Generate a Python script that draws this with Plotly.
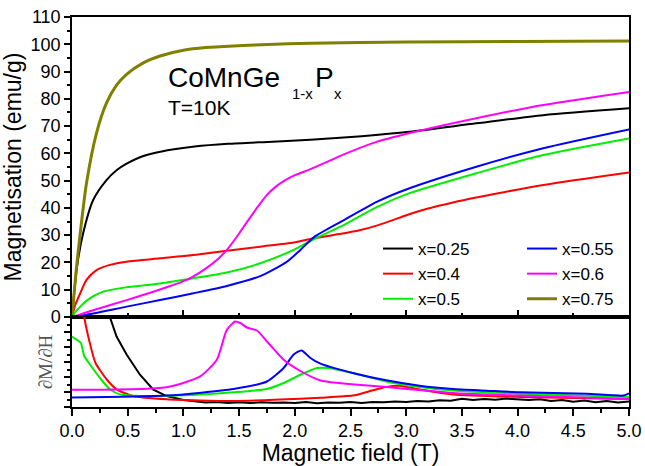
import plotly.graph_objects as go

# ---------------- data ----------------
labels = ["x=0.25", "x=0.4", "x=0.5", "x=0.55", "x=0.6", "x=0.75"]
colors = ["#000000", "#ff0000", "#00ee00", "#0000ff", "#ff00ff", "#808000"]

# Magnetisation M(H), emu/g
H_025 = [0, 0.045, 0.10, 0.19, 0.31, 0.40, 0.49, 0.60, 0.75, 0.90, 1.10, 1.40, 1.80, 2.14, 2.60, 3.03, 3.63, 4.23, 5.0]
M_025 = [0, 18.4, 30.7, 42.9, 50.2, 53.8, 56.2, 58.4, 60.2, 61.4, 62.5, 63.5, 64.3, 65.0, 66.3, 67.9, 71.0, 74.0, 76.5]

H_040 = [0, 0.03, 0.074, 0.13, 0.22, 0.34, 0.49, 0.79, 1.09, 1.39, 1.69, 1.99, 2.14, 2.4, 2.59, 2.75, 2.88, 3.0, 3.18, 3.42, 3.63, 4.23, 5.0]
M_040 = [0, 4.5, 8.7, 13.6, 17.2, 19.1, 20.3, 21.5, 22.7, 24.3, 25.8, 27.3, 28.6, 30.4, 31.9, 33.7, 35.5, 37.3, 39.6, 42.0, 43.8, 48.4, 53.0]

H_050 = [0, 0.03, 0.074, 0.16, 0.28, 0.49, 0.79, 1.09, 1.39, 1.69, 1.99, 2.17, 2.41, 2.74, 3.03, 3.63, 4.23, 5.0]
M_050 = [0, 1.8, 3.8, 6.8, 9.3, 10.9, 12.3, 14.2, 16.3, 19.7, 24.6, 28.5, 33.1, 40.4, 45.4, 52.7, 59.4, 65.5]

H_055 = [0, 0.19, 0.49, 0.79, 1.09, 1.39, 1.69, 1.93, 2.05, 2.17, 2.44, 2.74, 3.03, 3.63, 4.23, 5.0]
M_055 = [0, 1.3, 3.8, 6.2, 8.7, 11.4, 15.0, 20.3, 24.6, 29.2, 35.5, 42.3, 47.2, 55.1, 61.9, 68.8]

H_060 = [0, 0.19, 0.49, 0.79, 1.03, 1.18, 1.30, 1.39, 1.465, 1.51, 1.57, 1.66, 1.75, 1.83, 1.90, 2.0, 2.14, 2.32, 2.44, 2.74, 3.12, 3.63, 4.23, 5.0]
M_060 = [0, 2.5, 6.2, 10.1, 13.6, 17.2, 20.9, 24.6, 28.6, 31.2, 34.8, 40.0, 44.8, 47.8, 49.8, 52.0, 54.2, 57.4, 59.6, 64.3, 68.3, 72.9, 77.7, 82.5]

H_075 = [0, 0.035, 0.074, 0.13, 0.22, 0.31, 0.40, 0.49, 0.64, 0.79, 1.0, 1.2, 1.45, 1.7, 2.14, 3.0, 4.0, 5.0]
M_075 = [0, 16, 30.7, 49, 67.4, 78.5, 85, 89, 93.2, 95.7, 97.8, 98.8, 99.4, 99.8, 100.4, 100.8, 101.0, 101.2]

# Derivative dM/dH (arbitrary units)
dH_025 = [0, 0.2, 0.34, 0.40, 0.49, 0.61, 0.73, 0.85, 1.0, 1.1, 1.2, 1.3, 1.4, 1.5, 1.6, 1.7, 1.8, 1.9, 2.0,
          2.1, 2.2, 2.3, 2.4, 2.5, 2.6, 2.7, 2.8, 2.9, 3.0, 3.1, 3.2, 3.3, 3.4, 3.5, 3.6, 3.7, 3.8, 3.9, 4.0,
          4.1, 4.2, 4.3, 4.4, 4.5, 4.6, 4.7, 4.8, 4.9, 5.0]
dM_025 = [14, 9, 6.0, 4.7, 3.5, 2.15, 1.16, 0.73, 0.47, 0.36, 0.30, 0.33, 0.27, 0.31, 0.26, 0.32, 0.28, 0.30,
          0.27, 0.33, 0.25, 0.30, 0.28, 0.34, 0.27, 0.33, 0.31, 0.36, 0.33, 0.40, 0.36, 0.45, 0.41, 0.55,
          0.46, 0.53, 0.48, 0.56, 0.50, 0.46, 0.52, 0.40, 0.47, 0.35, 0.44, 0.32, 0.40, 0.30, 0.36]

dH_040 = [0, 0.05, 0.11, 0.16, 0.21, 0.31, 0.40, 0.55, 0.85, 1.45, 2.05, 2.23, 2.52, 2.67, 2.82, 2.94, 3.12, 3.42, 4.02, 5.0]
dM_040 = [15, 10, 6.0, 4.27, 2.95, 1.85, 1.18, 0.73, 0.51, 0.40, 0.55, 0.62, 0.76, 1.05, 1.33, 1.42, 1.16, 0.84, 0.67, 0.53]

dH_050 = [0, 0.05, 0.08, 0.11, 0.16, 0.26, 0.34, 0.43, 0.70, 1.15, 1.45, 1.75, 1.90, 2.05, 2.2, 2.3, 2.52, 2.82, 3.12, 3.42, 4.02, 5.0]
dM_050 = [4.7, 4.45, 4.27, 3.4, 2.85, 1.85, 1.18, 0.84, 0.73, 0.84, 0.98, 1.2, 1.6, 2.15, 2.6, 2.6, 2.27, 1.7, 1.33, 1.1, 0.89, 0.67]

dH_055 = [0, 0.85, 1.45, 1.75, 1.90, 1.99, 2.06, 2.14, 2.23, 2.52, 2.82, 3.12, 3.42, 3.72, 4.02, 4.62, 4.95, 5.0]
dM_055 = [0.64, 0.76, 1.2, 1.7, 2.6, 3.5, 3.77, 3.27, 2.89, 2.27, 1.78, 1.42, 1.2, 1.09, 0.98, 0.89, 0.76, 0.9]

dH_060 = [0, 0.85, 1.15, 1.30, 1.39, 1.465, 1.51, 1.57, 1.66, 1.75, 1.9, 2.05, 2.23, 2.82, 3.42, 4.02, 5.0]
dM_060 = [1.15, 1.32, 2.04, 3.15, 5.15, 5.7, 5.6, 5.3, 5.1, 4.37, 3.15, 2.4, 1.77, 1.33, 0.93, 0.76, 0.53]

x_ticks = [0, 0.5, 1, 1.5, 2, 2.5, 3, 3.5, 4, 4.5, 5]
x_ticklabels = ["0.0", "0.5", "1.0", "1.5", "2.0", "2.5", "3.0", "3.5", "4.0", "4.5", "5.0"]
y_ticks = list(range(0, 111, 10))

M_series = [(H_025, M_025), (H_040, M_040), (H_050, M_050), (H_055, M_055), (H_060, M_060), (H_075, M_075)]
D_series = [(dH_025, dM_025), (dH_040, dM_040), (dH_050, dM_050), (dH_055, dM_055), (dH_060, dM_060)]

# ---------------- figure ----------------
W, H = 645, 466
ML, MR, MT, MB = 72, 16, 17, 59
PW, PH = W - ML - MR, H - MT - MB
split = (407 - 317) / PH

def px(xp):  # page pixel -> paper x
    return (xp - ML) / PW

def py(yp):  # page pixel -> paper y
    return (H - MB - yp) / PH

FONT = "Liberation Sans, Arial, sans-serif"
fig = go.Figure()

for i, (hx, my) in enumerate(M_series):
    fig.add_trace(go.Scatter(
        x=hx, y=my, mode="lines", name=labels[i],
        line=dict(color=colors[i], width=3 if i == 5 else 2, shape="spline", smoothing=0.7),
        xaxis="x", yaxis="y",
        legend="legend" if i < 3 else "legend2",
    ))

for i, (hx, dy) in enumerate(D_series):
    fig.add_trace(go.Scatter(
        x=hx, y=dy, mode="lines", showlegend=False,
        line=dict(color=colors[i], width=2, shape="linear" if i == 0 else "spline", smoothing=0.6),
        xaxis="x2", yaxis="y2",
    ))

axis_common = dict(showgrid=False, zeroline=False, showline=True, linecolor="black",
                   linewidth=1.5, mirror=True, tickcolor="black", tickwidth=1.5, automargin=False)

fig.update_layout(
    width=W, height=H,
    margin=dict(l=ML, r=MR, t=MT, b=MB, autoexpand=False),
    paper_bgcolor="white", plot_bgcolor="white",
    font=dict(family=FONT, color="black", size=18),
    xaxis=dict(domain=[0, 1], anchor="y", range=[0, 5], showticklabels=False,
               ticks="inside", ticklen=7, tick0=0, dtick=1,
               minor=dict(ticks="inside", ticklen=4, dtick=0.5, tick0=0, tickcolor="black", tickwidth=1.5),
               **axis_common),
    yaxis=dict(domain=[split, 1], anchor="x", range=[0, 110], tickvals=y_ticks,
               ticks="outside", ticklen=6,
               minor=dict(ticks="outside", ticklen=3, dtick=5, tick0=0, tickcolor="black", tickwidth=1.5),
               tickfont=dict(size=18),
               title=dict(text="Magnetisation (emu/g)", font=dict(size=23), standoff=5),
               **axis_common),
    xaxis2=dict(domain=[0, 1], anchor="y2", range=[0, 5], tickvals=x_ticks, ticktext=x_ticklabels,
                ticks="outside", ticklen=7,
                minor=dict(ticks="outside", ticklen=4, dtick=0.25, tick0=0, tickcolor="black", tickwidth=1.5),
                tickfont=dict(size=18),
                title=dict(text="Magnetic field (T)", font=dict(size=23), standoff=6),
                **axis_common),
    yaxis2=dict(domain=[0, split], anchor="x2", range=[0, 6], showticklabels=False,
                ticks="outside", ticklen=6, tick0=0, dtick=1,
                minor=dict(ticks="outside", ticklen=3, dtick=0.5, tick0=0, tickcolor="black", tickwidth=1.5),
                title=dict(text="∂M/∂H", font=dict(size=19, family="Liberation Serif, serif", color="#555555"),
                           standoff=7),
                **axis_common),
    legend=dict(x=px(378), y=py(231), xanchor="left", yanchor="top", bgcolor="rgba(0,0,0,0)",
                font=dict(size=17), tracegroupgap=0, borderwidth=0),
    legend2=dict(x=px(522), y=py(231), xanchor="left", yanchor="top", bgcolor="rgba(0,0,0,0)",
                 font=dict(size=17), tracegroupgap=0, borderwidth=0),
    showlegend=True,
)

def add_text(text, xl, ycenter, size):
    fig.add_annotation(text=text, xref="paper", yref="paper", x=px(xl), y=py(ycenter),
                       xanchor="left", yanchor="middle", showarrow=False,
                       font=dict(size=size, family=FONT, color="black"))

add_text("CoMnGe", 166, 77, 28)
add_text("1-x", 290, 94, 15)
add_text("P", 313, 77, 28)
add_text("x", 332, 94, 15)
add_text("T=10K", 166, 108, 21)

# remove the default 8px page margin so the figure sits at the window's corner
fig.write_html("out.html", config={"displayModeBar": False},
               post_script="document.body.style.margin='0px';")
